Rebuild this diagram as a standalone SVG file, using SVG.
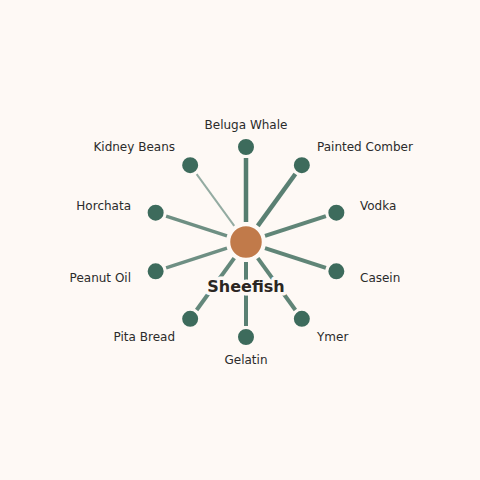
<svg xmlns="http://www.w3.org/2000/svg" width="480" height="480" viewBox="0 0 480 480">
<style>
.bg{fill:#fef9f5}
.edge{stroke:#3d6b5c;stroke-linecap:butt;fill:none}
.leaf{fill:#3d6b5c;stroke:#fef9f5;stroke-width:2}
.hub{fill:#c17a4a;stroke:#fef9f5;stroke-width:2.5}
.lbl{font-family:"DejaVu Sans",sans-serif;font-size:12px;fill:#2b2b2b}
.hlbl{font-family:"DejaVu Sans",sans-serif;font-size:16px;font-weight:bold;fill:#2b2622;stroke:#fef9f5;stroke-width:7;paint-order:stroke;stroke-linejoin:round}
</style>
<rect class="bg" x="0" y="0" width="480" height="480"/>
<g id="connectors">
<line class="edge" x1="246" y1="222" x2="246" y2="158" stroke-width="4.5" stroke-opacity="0.88"/>
<line class="edge" x1="257.76" y1="225.82" x2="295.37" y2="174.04" stroke-width="4.5" stroke-opacity="0.85"/>
<line class="edge" x1="265.02" y1="235.82" x2="325.89" y2="216.04" stroke-width="4" stroke-opacity="0.82"/>
<line class="edge" x1="265.02" y1="248.18" x2="325.89" y2="267.96" stroke-width="4" stroke-opacity="0.82"/>
<line class="edge" x1="257.76" y1="258.18" x2="295.37" y2="309.96" stroke-width="4" stroke-opacity="0.82"/>
<line class="edge" x1="246" y1="262" x2="246" y2="326" stroke-width="4" stroke-opacity="0.85"/>
<line class="edge" x1="234.24" y1="258.18" x2="196.63" y2="309.96" stroke-width="4" stroke-opacity="0.8"/>
<line class="edge" x1="226.98" y1="248.18" x2="166.11" y2="267.96" stroke-width="3.5" stroke-opacity="0.75"/>
<line class="edge" x1="226.98" y1="235.82" x2="166.11" y2="216.04" stroke-width="3.5" stroke-opacity="0.75"/>
<line class="edge" x1="234.24" y1="225.82" x2="196.63" y2="174.04" stroke-width="2" stroke-opacity="0.55"/>
</g>
<g id="n-beluga"><circle class="leaf" cx="246" cy="147" r="9"/><text class="lbl" x="246" y="129" text-anchor="middle">Beluga Whale</text></g>
<g id="n-comber"><circle class="leaf" cx="301.84" cy="165.14" r="9"/><text class="lbl" x="317" y="151">Painted Comber</text></g>
<g id="n-vodka"><circle class="leaf" cx="336.35" cy="212.64" r="9"/><text class="lbl" x="360" y="210">Vodka</text></g>
<g id="n-casein"><circle class="leaf" cx="336.35" cy="271.36" r="9"/><text class="lbl" x="360" y="282">Casein</text></g>
<g id="n-ymer"><circle class="leaf" cx="301.84" cy="318.86" r="9"/><text class="lbl" x="317" y="341">Ymer</text></g>
<g id="n-gelatin"><circle class="leaf" cx="246" cy="337" r="9"/><text class="lbl" x="246" y="364" text-anchor="middle">Gelatin</text></g>
<g id="n-pita"><circle class="leaf" cx="190.16" cy="318.86" r="9"/><text class="lbl" x="175" y="341" text-anchor="end">Pita Bread</text></g>
<g id="n-peanut"><circle class="leaf" cx="155.65" cy="271.36" r="9"/><text class="lbl" x="131" y="282" text-anchor="end">Peanut Oil</text></g>
<g id="n-horchata"><circle class="leaf" cx="155.65" cy="212.64" r="9"/><text class="lbl" x="131" y="210" text-anchor="end">Horchata</text></g>
<g id="n-kidney"><circle class="leaf" cx="190.16" cy="165.14" r="9"/><text class="lbl" x="175" y="151" text-anchor="end">Kidney Beans</text></g>
<g id="n-hub"><circle class="hub" cx="246" cy="242" r="17"/><text class="hlbl" x="246" y="292" text-anchor="middle">Sheefish</text></g>
</svg>
